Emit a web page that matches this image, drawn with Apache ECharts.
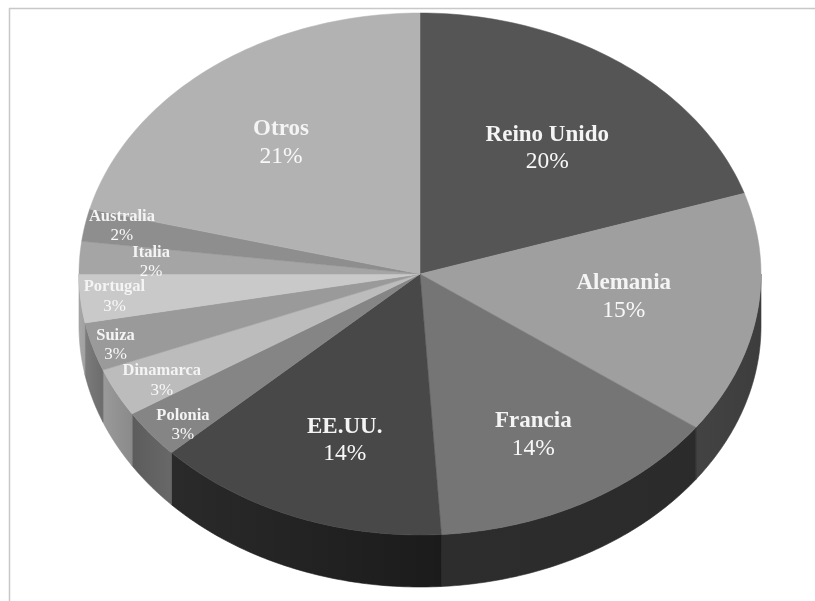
<!DOCTYPE html>
<html>
<head>
<meta charset="utf-8">
<style>html,body{margin:0;padding:0;background:#fff}#chart{width:815px;height:601px}</style>
<script src="https://cdn.jsdelivr.net/npm/echarts@6/dist/echarts.min.js"></script>
</head>
<body>
<div id="chart"></div>
<script>
// Share of each market, clockwise from twelve o'clock
const categories = ['Reino Unido','Alemania','Francia','EE.UU.','Polonia','Dinamarca','Suiza','Portugal','Italia','Australia','Otros'];
const shares = [20,15,14,14,3,3,3,3,2,2,21];

// Grey for each slice's top face and the two ends of its rim
const topColors = ['#555555','#9f9f9f','#757575','#484848','#858585','#bcbcbc','#9a9a9a','#c9c9c9','#a5a5a5','#8e8e8e','#b2b2b2'];
const rimFrom = ['#333333','#434343','#2d2d2d','#2a2a2a','#5c5c5c','#9a9a9a','#7c7c7c','#a8a8a8','#888888','#777777','#999999'];
const rimTo = ['#333333','#3d3d3d','#2b2b2b','#1b1b1b','#686868','#8a8a8a','#6c6c6c','#a0a0a0','#888888','#777777','#999999'];

// Label anchor as a fraction of the ellipse radii along the slice's mid-angle
const labelReachX = [0.635,0.605,0.69,0.6,0.88,0.85,0.93,0.9,0.79,0.89,0.665];
const labelReachY = [0.593,0.56,0.704,0.687,0.945,0.9,0.98,0.92,0.73,0.98,0.635];

const CX = 420, CY = 274, RX = 341, RY = 261, DEPTH = 52, STEPS = 64;

const total = shares.reduce((a, b) => a + b, 0);
const starts = [];
shares.reduce((sum, v, i) => { starts[i] = sum; return sum + v; }, 0);

const angleOf = s => s / total * Math.PI * 2;
const rimPoint = (a, dy) => [CX + RX * Math.sin(a), CY - RY * Math.cos(a) + (dy || 0)];

function arcPoints(a0, a1, dy) {
  const pts = [];
  for (let k = 0; k <= STEPS; k++) pts.push(rimPoint(a0 + (a1 - a0) * k / STEPS, dy));
  return pts;
}

// Rim of the disc: only the part of a slice on the lower half faces the viewer
function renderRim(params, api) {
  const i = params.dataIndex;
  const a0 = Math.max(angleOf(api.value(1)), Math.PI / 2);
  const a1 = Math.min(angleOf(api.value(1) + api.value(2)), Math.PI * 1.5);
  if (a1 <= a0) return null;
  const upper = arcPoints(a0, a1, 0);
  const lower = arcPoints(a0, a1, DEPTH).reverse();
  return {
    type: 'polygon',
    shape: { points: upper.concat(lower) },
    style: {
      fill: new echarts.graphic.LinearGradient(0, 0, 1, 0, [
        { offset: 0, color: rimFrom[i] },
        { offset: 1, color: rimTo[i] }
      ]),
      stroke: rimTo[i],
      lineWidth: 0.6
    }
  };
}

function renderTop(params, api) {
  const i = params.dataIndex;
  const a0 = angleOf(api.value(1));
  const a1 = angleOf(api.value(1) + api.value(2));
  return {
    type: 'polygon',
    shape: { points: [[CX, CY]].concat(arcPoints(a0, a1, 0)) },
    style: { fill: topColors[i], stroke: topColors[i], lineWidth: 0.5 }
  };
}

function renderLabel(params, api) {
  const i = params.dataIndex;
  const v = api.value(2);
  const mid = angleOf(api.value(1) + v / 2);
  const big = v >= 10;
  return {
    type: 'text',
    x: CX + RX * labelReachX[i] * Math.sin(mid),
    y: CY - RY * labelReachY[i] * Math.cos(mid),
    style: {
      text: '{n|' + categories[i] + '}\n{p|' + v + '%}',
      align: 'center',
      verticalAlign: 'middle',
      rich: {
        n: { fontFamily: 'Liberation Serif', fontWeight: 'bold', fontSize: big ? 23 : 16.5, lineHeight: big ? 27 : 19, fill: '#f4f4f4', align: 'center' },
        p: { fontFamily: 'Liberation Serif', fontWeight: 'normal', fontSize: big ? 23.5 : 17, lineHeight: big ? 27 : 19, fill: '#f8f8f8', align: 'center' }
      }
    }
  };
}

const rows = categories.map((name, i) => [name, starts[i], shares[i]]);
const chart = echarts.init(document.getElementById('chart'), null, { renderer: 'canvas' });
chart.setOption({
  animation: false,
  backgroundColor: '#ffffff',
  graphic: [
    { type: 'line', shape: { x1: 9.5, y1: 8, x2: 9.5, y2: 601 }, style: { stroke: '#c8c8c8', lineWidth: 1.5 } },
    { type: 'line', shape: { x1: 9, y1: 8.5, x2: 815, y2: 8.5 }, style: { stroke: '#c8c8c8', lineWidth: 1.5 } }
  ],
  series: [
    { type: 'custom', coordinateSystem: 'none', data: rows, renderItem: renderRim, z: 1, silent: true },
    { type: 'custom', coordinateSystem: 'none', data: rows, renderItem: renderTop, z: 2, silent: true },
    { type: 'custom', coordinateSystem: 'none', data: rows, renderItem: renderLabel, z: 3, silent: true }
  ]
});
</script>
</body>
</html>
